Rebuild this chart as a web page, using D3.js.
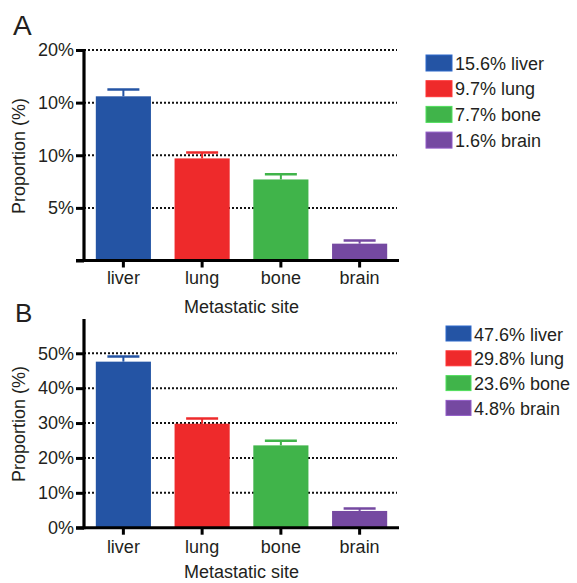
<!DOCTYPE html>
<html><head><meta charset="utf-8">
<script src="https://cdn.jsdelivr.net/npm/d3@7"></script>
<style>
body{margin:0;background:#fff;}
text{font-family:"Liberation Sans",Arial,Helvetica,sans-serif;fill:#231f20;}
</style></head>
<body><svg id="c" width="577" height="583"></svg>
<script>
const sites = ["liver","lung","bone","brain"];
const colors = ["#2454a4","#ee2a2b","#40b44a","#7549a1"];
// Panel A
const valuesA = [15.6, 9.7, 7.7, 1.6];
const errorsA = [0.65, 0.55, 0.5, 0.3];
const legendA = ["15.6% liver","9.7% lung","7.7% bone","1.6% brain"];
const ticksA = [0, 5, 10, 15, 20];
const tickLabelsA = ["", "5%", "10%", "10%", "20%"];
// Panel B
const valuesB = [47.6, 29.8, 23.6, 4.8];
const errorsB = [1.5, 1.5, 1.3, 0.7];
const legendB = ["47.6% liver","29.8% lung","23.6% bone","4.8% brain"];
const ticksB = [0, 10, 20, 30, 40, 50];
const tickLabelsB = ["0%","10%","20%","30%","40%","50%"];

const svg = d3.select("#c");

function panel(cfg){
  const g = svg.append("g");
  const x = d3.scaleBand().domain(sites).range([84, 399]).paddingInner(0.3).paddingOuter(0.15);
  const y = d3.scaleLinear().domain([0, cfg.ymax]).range([cfg.y0, cfg.ytop]);
  // gridlines
  g.selectAll("line.grid").data(cfg.ticks.filter(t=>t>0)).join("line")
    .attr("x1",84).attr("x2",397).attr("y1",d=>y(d)).attr("y2",d=>y(d))
    .attr("stroke","#111").attr("stroke-width",2).attr("stroke-dasharray","2,2");
  // bars
  g.selectAll("rect.bar").data(cfg.values).join("rect")
    .attr("x",(d,i)=>x(sites[i])).attr("width",x.bandwidth())
    .attr("y",d=>y(d)).attr("height",d=>y(0)-y(d))
    .attr("fill",(d,i)=>colors[i]);
  // error bars
  const eb = g.selectAll("g.err").data(cfg.values).join("g");
  eb.append("line")
    .attr("x1",(d,i)=>x(sites[i])+x.bandwidth()/2).attr("x2",(d,i)=>x(sites[i])+x.bandwidth()/2)
    .attr("y1",d=>y(d)).attr("y2",(d,i)=>y(d+cfg.errors[i]))
    .attr("stroke",(d,i)=>colors[i]).attr("stroke-width",2);
  eb.append("line")
    .attr("x1",(d,i)=>x(sites[i])+x.bandwidth()/2-16).attr("x2",(d,i)=>x(sites[i])+x.bandwidth()/2+16)
    .attr("y1",(d,i)=>y(d+cfg.errors[i])).attr("y2",(d,i)=>y(d+cfg.errors[i]))
    .attr("stroke",(d,i)=>colors[i]).attr("stroke-width",2.5);
  // y axis
  const ya = d3.axisLeft(y).tickValues(cfg.ticks).tickFormat((d,i)=>cfg.tickLabels[i]).tickSize(8).tickPadding(2).tickSizeOuter(0);
  const yg = g.append("g").attr("transform","translate(84,0)").call(ya);
  yg.select(".domain").attr("stroke","#000").attr("stroke-width",3.2).attr("d",`M0,${cfg.axisTop}V${cfg.y0+1.5}`);
  yg.selectAll(".tick line").attr("stroke","#000").attr("stroke-width",3);
  yg.selectAll(".tick text").attr("font-size",18).attr("fill","#231f20").style("font-family","'Liberation Sans',Arial,sans-serif");
  // x axis
  const xa = d3.axisBottom(x).tickSize(7).tickPadding(5).tickSizeOuter(0);
  const xg = g.append("g").attr("transform",`translate(0,${cfg.y0})`).call(xa);
  xg.select(".domain").attr("stroke","#000").attr("stroke-width",3).attr("d","M76,0H399");
  xg.selectAll(".tick line").attr("stroke","#000").attr("stroke-width",3);
  xg.selectAll(".tick text").attr("font-size",18).attr("fill","#231f20").attr("dy",null)
    .attr("y",cfg.xlabBase - cfg.y0).style("font-family","'Liberation Sans',Arial,sans-serif");
  // axis titles
  g.append("text").attr("x",241.5).attr("y",cfg.titleBase).attr("text-anchor","middle").attr("font-size",18).text("Metastatic site");
  g.append("text").attr("transform",`translate(${cfg.ytitleX},${cfg.ytitleY}) rotate(-90)`).attr("text-anchor","middle").attr("font-size",18).text("Proportion (%)");
  // panel letter
  g.append("text").attr("x",cfg.letterX).attr("y",cfg.letterY).attr("font-size",cfg.letterSize).text(cfg.letter);
  // legend
  const lg = g.selectAll("g.leg").data(cfg.legend).join("g")
    .attr("transform",(d,i)=>`translate(${cfg.legX},${cfg.legY + i*cfg.legStep})`);
  lg.append("rect").attr("width",cfg.swW).attr("height",cfg.swH).attr("fill",(d,i)=>colors[i])
    .attr("stroke",(d,i)=>d3.color(colors[i]).brighter(0.6)).attr("stroke-width",1);
  lg.append("text").attr("x",cfg.swW+3).attr("y",14.5).attr("font-size",18).text(d=>d);
}

panel({values:valuesA, errors:errorsA, ticks:ticksA, tickLabels:tickLabelsA, ymax:20,
  y0:260.5, ytop:50, axisTop:49, xlabBase:283.5, titleBase:313, ytitleX:25, ytitleY:156,
  letter:"A", letterX:13, letterY:35, letterSize:28,
  legend:legendA, legX:426, legY:55, legStep:25.7, swW:26, swH:16});
panel({values:valuesB, errors:errorsB, ticks:ticksB, tickLabels:tickLabelsB, ymax:60,
  y0:527.7, ytop:318.4, axisTop:319, xlabBase:553, titleBase:578, ytitleX:25, ytitleY:424,
  letter:"B", letterX:15, letterY:322, letterSize:26,
  legend:legendB, legX:446, legY:326, legStep:24.8, swW:25, swH:15});
</script></body></html>
